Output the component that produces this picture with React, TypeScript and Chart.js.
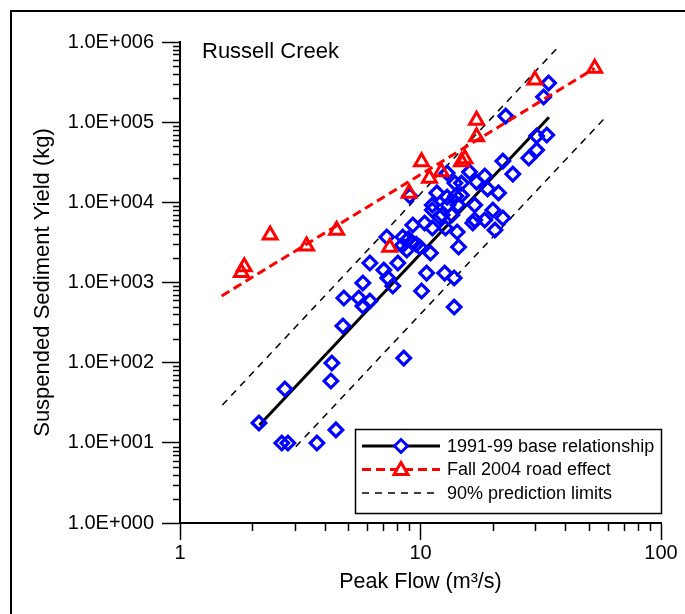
import React, { useEffect, useRef } from 'react';
import { Chart, registerables } from 'chart.js';
Chart.register(...registerables);

// ---- data ----
const baseFlow = [34.1, 32.5, 22.6, 33.5, 30.4, 30.4, 28.2, 22.0, 24.2, 21.1, 19.0, 18.5, 17.1, 16.0, 14.8, 14.8, 16.8, 20.0, 22.0, 18.5, 16.8, 20.4, 16.5, 14.0, 12.9, 13.9, 11.7, 12.9, 11.2, 13.0, 14.3, 12.3, 13.5, 9.29, 10.4, 11.2, 12.7, 14.2, 9.03, 7.24, 8.44, 9.29, 8.77, 9.93, 8.05, 6.16, 7.04, 7.31, 7.67, 5.76, 4.80, 5.54, 6.16, 5.76, 4.76, 14.4, 11.0, 10.6, 12.6, 13.8, 10.1, 13.8, 8.52, 4.28, 4.24, 2.73, 2.13, 2.65, 2.81, 3.71, 4.45, 12.0, 11.2, 8.9, 9.6, 8.4];
const baseYield = [308000, 206000, 119000, 69100, 67200, 44900, 35700, 32700, 22500, 13100, 14700, 21300, 17900, 23900, 17400, 12300, 9250, 8020, 6370, 6020, 6020, 4510, 5520, 12000, 23200, 17400, 13100, 11600, 9250, 9250, 9250, 6950, 6950, 5210, 5520, 4780, 4780, 4260, 12000, 3690, 3690, 3110, 2540, 2770, 1750, 1750, 1430, 1140, 904, 986, 640, 640, 587, 509, 287, 2770, 2330, 1310, 1310, 1140, 783, 494, 114, 99, 59, 46.9, 17.7, 9.95, 9.95, 9.95, 14.5, 6560, 8020, 3500, 3000, 2900];

const roadFlow = [53, 29.9, 17.1, 17.1, 15.3, 14.8, 10.1, 12.2, 10.9, 8.97, 2.37, 4.48, 3.36, 7.45, 1.85, 1.80];
const roadYield = [470000, 336000, 106000, 66000, 35000, 32000, 32000, 24000, 20000, 13000, 3900, 4500, 2850, 2750, 1570, 1330];

const fitFlow = [2.14, 34.2];
const fitYield = [16.7, 115000];
const roadLineFlow = [1.49, 53];
const roadLineYield = [680, 470000];
const upperFlow = [1.5, 37.3];
const upperYield = [29.6, 860000];
const lowerFlow = [3.03, 58.3];
const lowerYield = [8.95, 112000];

const xTicks = [1, 10, 100];
const yTicks = [1, 10, 100, 1000, 10000, 100000, 1000000];
const legendLabels = ['1991-99 base relationship', 'Fall 2004 road effect', '90% prediction limits'];
const siteName = 'Russell Creek';
const xTitle = 'Peak Flow (m\u00B3/s)';
const yTitle = 'Suspended Sediment Yield (kg)';

const FONT = 'Arial, "Liberation Sans", Helvetica, sans-serif';

const pts = (xs: number[], ys: number[]) => xs.map((x, i) => ({ x, y: ys[i] }));
const yLabel = (v: number) => {
  const e = Math.round(Math.log10(v));
  return '1.0E+' + String(e).padStart(3, '0');
};

const decorPlugin = {
  id: 'decor',
  beforeDraw(chart: any) {
    const ctx = chart.ctx;
    ctx.save();
    ctx.fillStyle = '#fff';
    ctx.fillRect(0, 0, chart.width, chart.height);
    ctx.strokeStyle = '#000';
    ctx.lineWidth = 2;
    ctx.strokeRect(11, 11, 800, 800);
    ctx.restore();
  },
  afterDraw(chart: any) {
    const ctx = chart.ctx;
    const xs = chart.scales.x;
    const ys = chart.scales.y;
    const area = chart.chartArea;
    ctx.save();
    // minor ticks
    ctx.strokeStyle = '#000';
    ctx.lineWidth = 1.5;
    ctx.beginPath();
    for (let d = 1; d < 100; d *= 10) {
      for (let m = 2; m <= 9; m++) {
        const px = Math.round(xs.getPixelForValue(m * d)) + 0.5;
        ctx.moveTo(px, area.bottom);
        ctx.lineTo(px, area.bottom + 8);
      }
    }
    for (let d = 1; d < 1000000; d *= 10) {
      for (let m = 2; m <= 9; m++) {
        const py = Math.round(ys.getPixelForValue(m * d)) + 0.5;
        ctx.moveTo(area.left, py);
        ctx.lineTo(area.left - 7, py);
      }
    }
    ctx.stroke();

    // site name
    ctx.fillStyle = '#000';
    ctx.font = '22px ' + FONT;
    ctx.textAlign = 'left';
    ctx.textBaseline = 'middle';
    ctx.fillText(siteName, 202, 52);

    // legend
    const bx = 355, by = 429, bw = 306, bh = 84;
    ctx.fillStyle = '#fff';
    ctx.fillRect(bx, by, bw, bh);
    ctx.strokeStyle = '#000';
    ctx.lineWidth = 1.5;
    ctx.strokeRect(bx + 0.5, by + 0.5, bw, bh);
    const rows = [446, 469.5, 493];
    const x0 = 362, x1 = 440, xm = 401;
    // row 1
    ctx.setLineDash([]);
    ctx.lineWidth = 3;
    ctx.strokeStyle = '#000';
    ctx.beginPath(); ctx.moveTo(x0, rows[0]); ctx.lineTo(x1, rows[0]); ctx.stroke();
    ctx.fillStyle = '#fff';
    ctx.strokeStyle = '#0000ff';
    ctx.beginPath();
    ctx.moveTo(xm - 6.5, rows[0]); ctx.lineTo(xm, rows[0] - 6.5); ctx.lineTo(xm + 6.5, rows[0]); ctx.lineTo(xm, rows[0] + 6.5); ctx.closePath();
    ctx.fill(); ctx.stroke();
    // row 2
    ctx.strokeStyle = '#ff0000';
    ctx.setLineDash([9, 5]);
    ctx.beginPath(); ctx.moveTo(x0, rows[1]); ctx.lineTo(x1, rows[1]); ctx.stroke();
    ctx.setLineDash([]);
    const r = 8;
    const cy = rows[1] + 1;
    ctx.beginPath();
    ctx.moveTo(xm, cy - r);
    ctx.lineTo(xm + r * Math.sin(2 * Math.PI / 3), cy - r * Math.cos(2 * Math.PI / 3));
    ctx.lineTo(xm + r * Math.sin(4 * Math.PI / 3), cy - r * Math.cos(4 * Math.PI / 3));
    ctx.closePath();
    ctx.fillStyle = '#fff';
    ctx.fill(); ctx.stroke();
    // row 3
    ctx.strokeStyle = '#000';
    ctx.lineWidth = 1.5;
    ctx.setLineDash([7, 6]);
    ctx.beginPath(); ctx.moveTo(x0, rows[2]); ctx.lineTo(x1, rows[2]); ctx.stroke();
    ctx.setLineDash([]);
    // texts
    ctx.fillStyle = '#000';
    ctx.font = '18px ' + FONT;
    ctx.textAlign = 'left';
    ctx.textBaseline = 'middle';
    legendLabels.forEach((t, i) => ctx.fillText(t, 447, rows[i] + 1));
    ctx.restore();
  },
};

export default function App() {
  const ref = useRef<HTMLCanvasElement | null>(null);
  useEffect(() => {
    if (!ref.current) return;
    Chart.defaults.font.family = FONT;
    Chart.defaults.color = '#000';
    const chart = new Chart(ref.current, {
      type: 'scatter',
      data: {
        datasets: [
          {
            label: 'road points',
            data: pts(roadFlow, roadYield),
            pointStyle: 'triangle',
            pointRadius: 8,
            pointBorderWidth: 3,
            borderColor: '#ff0000',
            backgroundColor: 'rgba(0,0,0,0)',
            showLine: false,
            order: 0,
          },
          {
            label: legendLabels[1],
            data: pts(roadLineFlow, roadLineYield),
            showLine: true,
            pointRadius: 0,
            borderColor: '#ff0000',
            borderWidth: 3,
            borderDash: [9, 5],
            order: 1,
          },
          {
            label: legendLabels[0],
            data: pts(baseFlow, baseYield),
            pointStyle: 'rectRot',
            pointRadius: 6.8,
            pointBorderWidth: 3.2,
            borderColor: '#0000ff',
            backgroundColor: 'rgba(0,0,0,0)',
            showLine: false,
            order: 2,
          },
          {
            label: 'fit',
            data: pts(fitFlow, fitYield),
            showLine: true,
            pointRadius: 0,
            borderColor: '#000',
            borderWidth: 3,
            order: 3,
          },
          {
            label: legendLabels[2],
            data: pts(upperFlow, upperYield),
            showLine: true,
            pointRadius: 0,
            borderColor: '#000',
            borderWidth: 1.5,
            borderDash: [7, 6],
            order: 4,
          },
          {
            label: 'lower',
            data: pts(lowerFlow, lowerYield),
            showLine: true,
            pointRadius: 0,
            borderColor: '#000',
            borderWidth: 1.5,
            borderDash: [7, 6],
            order: 4,
          },
        ],
      },
      options: {
        responsive: false,
        animation: false,
        events: [],
        layout: { padding: { top: 42, right: 24, bottom: 0, left: 0 } },
        plugins: { legend: { display: false }, tooltip: { enabled: false } },
        scales: {
          x: {
            type: 'logarithmic',
            min: 1,
            max: 100,
            afterBuildTicks: (s: any) => { s.ticks = xTicks.map((v) => ({ value: v })); },
            afterFit: (s: any) => { s.height = 91; },
            ticks: {
              autoSkip: false,
              maxRotation: 0,
              padding: 1,
              font: { size: 20 },
              color: '#000',
              callback: (v: any) => String(v),
            },
            grid: { display: true, drawOnChartArea: false, drawTicks: true, tickLength: 17, tickColor: '#000', tickWidth: 1.5 },
            border: { display: true, color: '#000', width: 2 },
            title: { display: true, text: xTitle, font: { size: 21.5 }, color: '#000', padding: { top: 0, bottom: 19 } },
          },
          y: {
            type: 'logarithmic',
            min: 1,
            max: 1000000,
            afterBuildTicks: (s: any) => { s.ticks = yTicks.map((v) => ({ value: v })); },
            afterFit: (s: any) => { s.width = 180; },
            ticks: {
              autoSkip: false,
              padding: 8,
              font: { size: 20 },
              color: '#000',
              callback: (v: any) => yLabel(Number(v)),
            },
            grid: { display: true, drawOnChartArea: false, drawTicks: true, tickLength: 18, tickColor: '#000', tickWidth: 1.5 },
            border: { display: true, color: '#000', width: 2 },
            title: { display: true, text: yTitle, font: { size: 22 }, color: '#000', padding: { top: 30, bottom: 0 } },
          },
        },
      },
      plugins: [decorPlugin],
    } as any);
    return () => chart.destroy();
  }, []);
  return (
    <div style={{ position: 'absolute', left: 0, top: 0, width: 685, height: 614 }}>
      <canvas ref={ref} width={685} height={614} style={{ display: 'block' }} />
    </div>
  );
}
